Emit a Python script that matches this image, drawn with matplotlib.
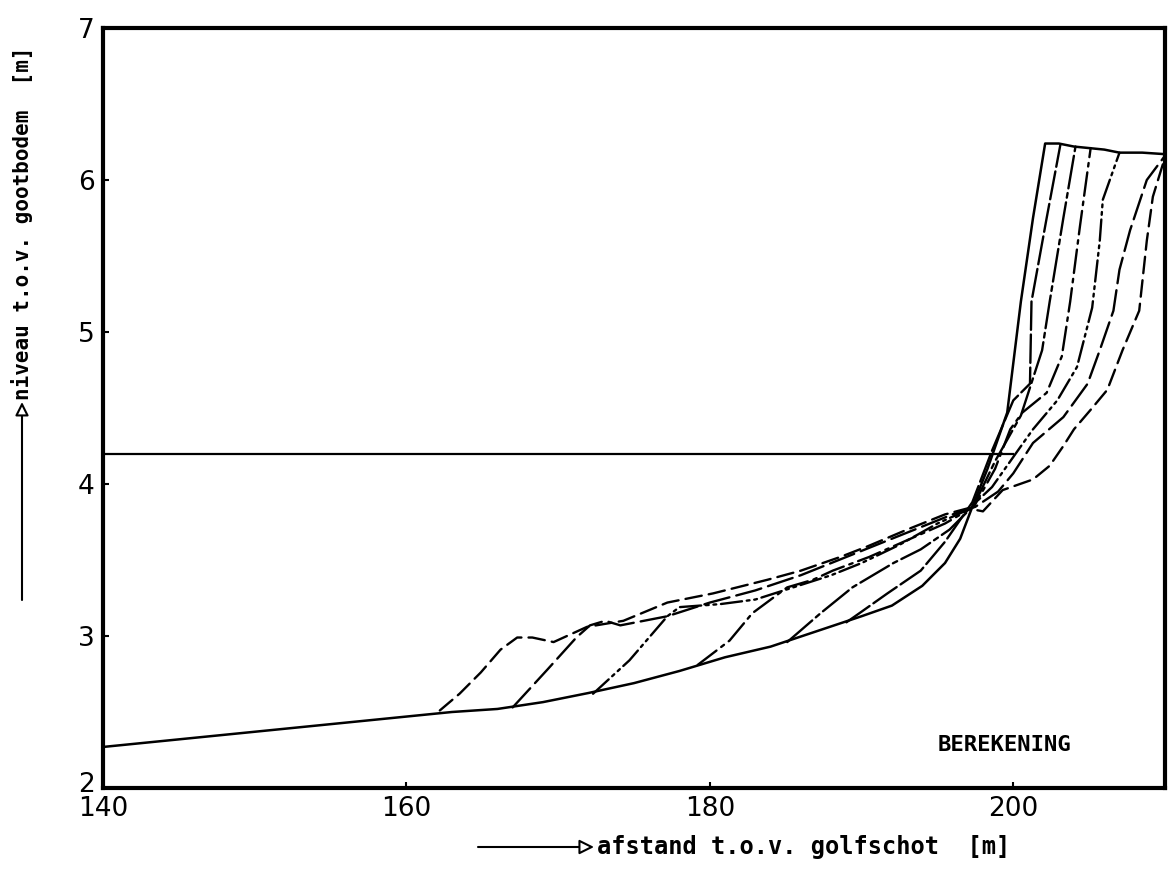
import numpy as np
import matplotlib.pyplot as plt
from matplotlib.transforms import ScaledTranslation

# beginprofiel (doorgetrokken)
x0 = [140, 145, 150, 155, 160, 163, 166, 169, 172, 175, 178, 181, 184, 187, 190, 192, 194,
      195.5, 196.5, 197.3, 198.3, 199.6, 200.5, 201.3, 202.1, 203.0, 204.0, 205.0, 206.0, 207.0, 208.5, 210]
y0 = [2.27, 2.32, 2.37, 2.42, 2.47, 2.50, 2.52, 2.565, 2.625, 2.69, 2.77, 2.86, 2.93, 3.03, 3.13, 3.20, 3.33,
      3.48, 3.64, 3.85, 4.10, 4.47, 5.20, 5.75, 6.24, 6.24, 6.22, 6.21, 6.20, 6.18, 6.18, 6.17]

# berekende profielen, van teen naar duintop
x1 = [189.0, 190.0, 191.7, 193.9, 195.5, 197.3, 198.6, 200.0, 201.1, 201.2, 202.2, 203.1]
y1 = [3.09, 3.16, 3.28, 3.43, 3.62, 3.88, 4.22, 4.55, 4.66, 5.20, 5.75, 6.23]

x2 = [185.1, 187.3, 189.4, 192.1, 193.9, 195.8, 197.4, 198.8, 200.5, 201.9, 202.4, 203.3, 204.1]
y2 = [2.96, 3.15, 3.32, 3.48, 3.57, 3.70, 3.86, 4.15, 4.45, 4.88, 5.20, 5.75, 6.22]

x3 = [179.2, 181.3, 182.8, 185.1, 186.8, 188.1, 190.5, 193.0, 195.5, 197.4, 198.8, 199.8, 200.6,
      202.2, 203.2, 203.75, 204.4, 205.1]
y3 = [2.81, 2.97, 3.15, 3.32, 3.37, 3.43, 3.52, 3.63, 3.74, 3.85, 4.10, 4.36, 4.47,
      4.60, 4.84, 5.20, 5.70, 6.21]

x4 = [172.3, 174.7, 177.2, 178.0, 180.7, 183.0, 185.5, 188.0, 190.0, 192.5, 195.0, 197.0, 198.6,
      200.3, 201.3, 202.9, 204.2, 205.2, 205.7, 205.9, 207.0]
y4 = [2.62, 2.84, 3.13, 3.19, 3.21, 3.24, 3.32, 3.40, 3.48, 3.60, 3.74, 3.83, 3.98,
      4.22, 4.36, 4.55, 4.77, 5.16, 5.60, 5.87, 6.18]

x5 = [167.0, 169.3, 171.2, 172.1, 173.1, 174.1, 177.2, 180.0, 183.0, 186.0, 189.0, 191.5, 194.0,
      196.0, 197.5, 199.0, 200.0, 201.3, 203.3, 204.9, 205.7, 206.6, 207.0, 207.7, 208.2, 208.8, 210.0]
y5 = [2.53, 2.78, 2.99, 3.07, 3.10, 3.07, 3.13, 3.22, 3.30, 3.40, 3.52, 3.62, 3.72,
      3.80, 3.85, 3.95, 4.07, 4.27, 4.44, 4.66, 4.88, 5.14, 5.41, 5.67, 5.82, 6.00, 6.16]

x6 = [162.2, 163.5, 164.9, 166.2, 167.3, 168.3, 169.7, 171.9, 174.3, 177.2, 180.2, 183.8, 186.0,
      188.6, 190.4, 193.0, 195.5, 197.0, 198.0, 199.3, 201.3, 202.4, 203.3, 204.0, 205.2, 206.2,
      207.2, 208.3, 208.8, 209.2, 210.0]
y6 = [2.51, 2.62, 2.76, 2.91, 2.99, 2.99, 2.96, 3.06, 3.10, 3.22, 3.28, 3.37, 3.43,
      3.52, 3.59, 3.70, 3.80, 3.84, 3.82, 3.96, 4.03, 4.12, 4.25, 4.36, 4.50, 4.62,
      4.88, 5.14, 5.60, 5.89, 6.15]

profielen = [(x1, y1), (x2, y2), (x3, y3), (x4, y4), (x5, y5), (x6, y6)]
streep = [(12, 2), (14, 2, 2, 2), (10, 2.5, 1.5, 2.5), (9, 2, 1.2, 2, 1.2, 2), (11, 3), (7, 3)]

waterstand = 4.2
xticks = [140, 160, 180, 200]
yticks = [2, 3, 4, 5, 6, 7]

W, H = 1169, 871
fig = plt.figure(figsize=(W / 100, H / 100), dpi=100)
ax = fig.add_axes([103/W, 1 - 788/H, (1165 - 103)/W, (788 - 28)/H])

ax.plot(x0, y0, color='black', lw=1.8, solid_capstyle='round')
for (xp, yp), ds in zip(profielen, streep):
    ax.plot(xp, yp, color='black', lw=1.7, dashes=ds, dash_capstyle='round')

ax.plot([140, 200], [waterstand, waterstand], color='black', lw=1.6)

ax.text(195.0, 2.28, 'BEREKENING', fontsize=16, fontfamily='DejaVu Sans Mono',
        fontweight='bold', va='center', ha='left')

ax.set_xlim(140, 210)
ax.set_ylim(2, 7)
ax.set_xticks(xticks)
ax.set_yticks(yticks)
ax.tick_params(direction='in', length=4, width=1.5, labelsize=19, pad=6)
for s in ax.spines.values():
    s.set_linewidth(3)

# het label "2" iets omhoog, zoals in het origineel net boven "140"
lbl2 = ax.get_yticklabels()[0]
lbl2.set_transform(lbl2.get_transform() + ScaledTranslation(0, 0.06, fig.dpi_scale_trans))

# aslabels met pijltjes (posities in figuurpixels, vanaf onder)
fig.text(597, H - 847, 'afstand t.o.v. golfschot  [m]', transform=None, fontsize=17,
         fontfamily='DejaVu Sans Mono', fontweight='bold', va='center', ha='left')
ax.annotate('', xy=(594, H - 847), xytext=(478, H - 847), xycoords='figure pixels',
            arrowprops=dict(arrowstyle='-|>', lw=1.5, color='black', fc='white',
                            mutation_scale=22, shrinkA=0, shrinkB=0))

fig.text(22, H - 400, 'niveau t.o.v. gootbodem  [m]', transform=None, fontsize=15,
         fontfamily='DejaVu Sans Mono', fontweight='bold', va='bottom', ha='center',
         rotation=90)
ax.annotate('', xy=(22, H - 402), xytext=(22, H - 600), xycoords='figure pixels',
            arrowprops=dict(arrowstyle='-|>', lw=1.5, color='black', fc='white',
                            mutation_scale=20, shrinkA=0, shrinkB=0))

fig.savefig('out.png', dpi=100)
